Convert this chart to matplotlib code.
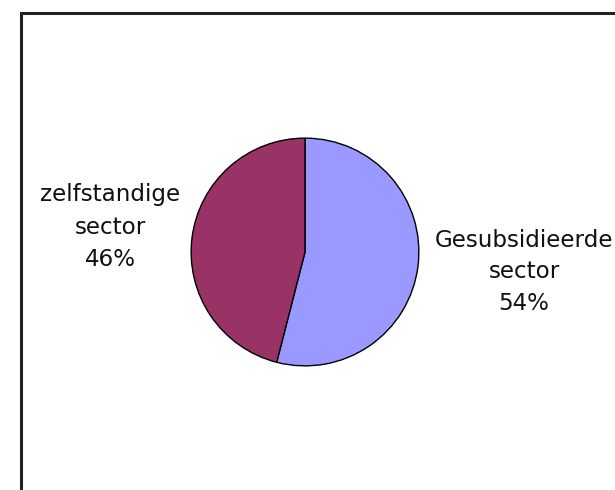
import matplotlib.pyplot as plt
from matplotlib.patches import Rectangle

labels = ['Gesubsidieerde\nsector', 'zelfstandige\nsector']
values = [54, 46]
colors = ['#9999FF', '#993366']

W, H = 615, 490
fig = plt.figure(figsize=(W / 100, H / 100), dpi=100)

# chart border, runs off the right and bottom edge
fig.patches.append(Rectangle((21 / W, -0.1), 1.2, 1 - 13 / H + 0.1,
                             transform=fig.transFigure, fill=False,
                             edgecolor='#222222', linewidth=2.2))

cx, cy, r = 305, 252, 115
ax = fig.add_axes([(cx - r) / W, (H - cy - r) / H, 2 * r / W, 2 * r / H])
ax.pie(values, colors=colors, startangle=90, counterclock=False,
       wedgeprops=dict(edgecolor='black', linewidth=1.0))
ax.set_xlim(-1.01, 1.01)
ax.set_ylim(-1.01, 1.01)
ax.axis('off')

# label positions in pixels (centre of text block)
pos = [(524, 272), (110, 227)]
for lab, v, (x, y) in zip(labels, values, pos):
    fig.text(x / W, 1 - y / H, f'{lab}\n{v}%', ha='center', va='center',
             fontsize=16.6, family='DejaVu Sans', color='#111111',
             linespacing=1.5)

fig.savefig('out.png', dpi=100, facecolor='white')
